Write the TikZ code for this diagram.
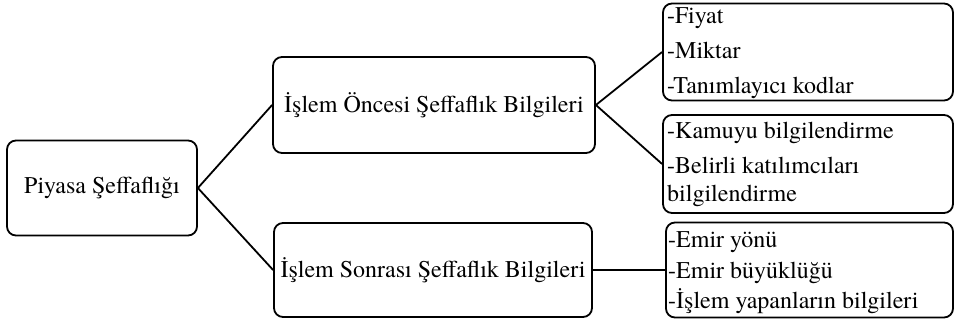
\documentclass[tikz,border=0pt]{standalone}
\usepackage{fontspec}
\IfFontExistsTF{TeX Gyre Termes}{\setmainfont{TeX Gyre Termes}}{\setmainfont{Liberation Serif}}
\begin{document}
\begin{tikzpicture}[x=1pt,y=-1pt,
  box/.style={draw=black, line width=1.8pt, rounded corners=9pt, inner sep=0pt,
    font=\fontsize{24}{28}\selectfont},
  item/.style={font=\fontsize{24}{28}\selectfont, inner sep=0pt, anchor=base west},
  link/.style={draw=black, line width=1.8pt}]
\useasboundingbox (0,0) rectangle (956,321);

% main boxes
\node[box, minimum width=190pt, minimum height=95pt] (root) at (102,188) {Piyasa Şeffaflığı};
\node[box, minimum width=322pt, minimum height=96pt] (pre)  at (434,105) {İşlem Öncesi Şeffaflık Bilgileri};
\node[box, minimum width=318pt, minimum height=94pt] (post) at (433,270) {İşlem Sonrası Şeffaflık Bilgileri};

% list boxes
\node[box, minimum width=290pt, minimum height=97pt] (l1) at (808,52) {};
\node[box, minimum width=290pt, minimum height=98pt] (l2) at (808,164) {};
\node[box, minimum width=287pt, minimum height=95pt] (l3) at (809.5,270) {};

% list entries
\node[item] (l1a) at (667,24) {-Fiyat};
\node[item] (l1b) at (667,59) {-Miktar};
\node[item] (l1c) at (667,93) {-Tanımlayıcı kodlar};

\node[item] (l2a) at (667,138) {-Kamuyu bilgilendirme};
\node[item] (l2b) at (667,173) {-Belirli katılımcıları};
\node[item] (l2c) at (667,201) {bilgilendirme};

\node[item] (l3a) at (668,247) {-Emir yönü};
\node[item] (l3b) at (668,278) {-Emir büyüklüğü};
\node[item] (l3c) at (668,308) {-İşlem yapanların bilgileri};

% connectors
\draw[link] (root.east) -- (pre.west);
\draw[link] (root.east) -- (post.west);
\draw[link] (pre.east) -- (l1.west);
\draw[link] (pre.east) -- (l2.west);
\draw[link] (post.east) -- (l3.west);
\end{tikzpicture}
\end{document}
